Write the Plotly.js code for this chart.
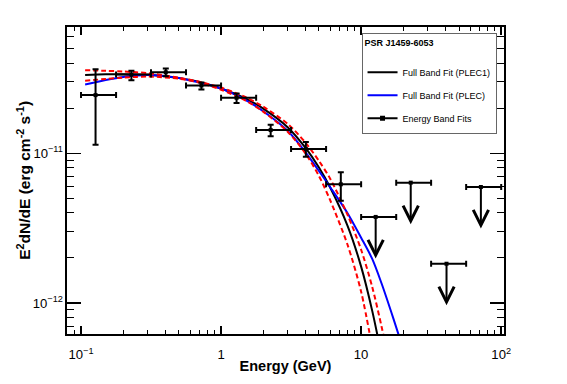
<!DOCTYPE html>
<html>
<head>
<meta charset="utf-8">
<script src="https://cdn.plot.ly/plotly-3.0.1.min.js"></script>
<style>html,body{margin:0;padding:0;background:#fff;}#chart{width:567px;height:384px;}</style>
</head>
<body>
<div id="chart"></div>
<script>
// ---- Energy band fits (GeV, erg cm^-2 s^-1) ----
const bandEnergy = [0.127, 0.229, 0.403, 0.724, 1.29, 2.26, 4.03, 7.16];
const bandLow    = [0.1, 0.178, 0.316, 0.562, 1.0, 1.78, 3.16, 5.62];
const bandHigh   = [0.178, 0.316, 0.562, 1.0, 1.78, 3.16, 5.62, 10.0];
const bandFlux   = [2.45e-11, 3.36e-11, 3.48e-11, 2.84e-11, 2.35e-11, 1.43e-11, 1.07e-11, 6.21e-12];
const bandFluxHi = [3.65e-11, 3.56e-11, 3.69e-11, 2.97e-11, 2.51e-11, 1.55e-11, 1.19e-11, 7.47e-12];
const bandFluxLo = [1.14e-11, 3.08e-11, 3.27e-11, 2.67e-11, 2.17e-11, 1.30e-11, 9.5e-12, 4.83e-12];

// ---- Upper limits ----
const ulEnergy = [12.7, 22.6, 40.7, 71.6];
const ulLow    = [10.0, 17.8, 31.6, 56.2];
const ulHigh   = [17.8, 31.6, 56.2, 100.0];
const ulFlux   = [3.76e-12, 6.37e-12, 1.83e-12, 5.96e-12];

// ---- Full band fit PLEC1 (black) ----
const plec1Energy = [0.107, 0.15, 0.2, 0.3, 0.5, 0.7, 1, 1.5, 2, 3, 4, 5, 6, 8, 10, 12, 14];
const plec1Flux   = [3.34e-11, 3.37e-11, 3.38e-11, 3.35e-11, 3.18e-11, 3.00e-11, 2.71e-11, 2.32e-11, 1.99e-11, 1.49e-11, 1.09e-11, 8.03e-12, 5.93e-12, 3.28e-12, 1.75e-12, 8.86e-13, 4.45e-13];

// ---- Full band fit PLEC (blue) ----
const plecEnergy = [0.107, 0.15, 0.2, 0.3, 0.5, 0.7, 1, 1.5, 2, 3, 4, 5, 6, 8, 10, 12, 14, 17, 20];
const plecFlux   = [2.88e-11, 3.09e-11, 3.24e-11, 3.34e-11, 3.19e-11, 2.97e-11, 2.71e-11, 2.27e-11, 1.91e-11, 1.41e-11, 1.02e-11, 7.62e-12, 5.96e-12, 3.98e-12, 2.73e-12, 1.97e-12, 1.35e-12, 7.87e-13, 4.90e-13];

// ---- PLEC1 uncertainty band (red dashed) ----
const bandUpperEnergy = [0.107, 0.15, 0.2, 0.3, 0.5, 0.7, 1, 1.5, 2, 3, 4, 5, 6, 8, 10, 12, 14, 16];
const bandUpperFlux   = [3.59e-11, 3.56e-11, 3.52e-11, 3.43e-11, 3.20e-11, 3.01e-11, 2.75e-11, 2.37e-11, 2.05e-11, 1.57e-11, 1.18e-11, 8.89e-12, 6.79e-12, 3.88e-12, 2.27e-12, 1.28e-12, 6.95e-13, 3.88e-13];
const bandLowerEnergy = [0.107, 0.15, 0.2, 0.3, 0.5, 0.7, 1, 1.5, 2, 3, 4, 5, 6, 8, 10, 12];
const bandLowerFlux   = [3.05e-11, 3.14e-11, 3.20e-11, 3.26e-11, 3.15e-11, 2.97e-11, 2.66e-11, 2.25e-11, 1.90e-11, 1.39e-11, 1.00e-11, 7.06e-12, 4.88e-12, 2.45e-12, 1.19e-12, 5.04e-13];

const legendTitle = 'PSR J1459-6053';
const names = ['Full Band Fit (PLEC1)', 'Full Band Fit (PLEC)', 'Energy Band Fits'];
const xTitle = 'Energy (GeV)';
const yTitle = 'E<sup>2</sup>dN/dE (erg cm<sup>-2</sup> s<sup>-1</sup>)';

const FONT = 'Liberation Sans, Arial, Helvetica, sans-serif';

const traces = [
  {x: plec1Energy, y: plec1Flux, mode: 'lines', name: names[0], legendgroup: 'a',
   line: {color: 'black', width: 2, shape: 'spline', smoothing: 0.8}},
  {x: plecEnergy, y: plecFlux, mode: 'lines', name: names[1], legendgroup: 'b',
   line: {color: '#0000ff', width: 2, shape: 'spline', smoothing: 0.8}},
  {x: bandUpperEnergy, y: bandUpperFlux, mode: 'lines', showlegend: false,
   line: {color: '#ff0000', width: 2, dash: '5px,3px', shape: 'spline', smoothing: 0.8}},
  {x: bandLowerEnergy, y: bandLowerFlux, mode: 'lines', showlegend: false,
   line: {color: '#ff0000', width: 2, dash: '5px,3px', shape: 'spline', smoothing: 0.8}},
  {x: bandEnergy, y: bandFlux, mode: 'markers', showlegend: false,
   marker: {symbol: 'square', size: 4, color: 'black'},
   error_x: {type: 'data', symmetric: false,
     array: bandHigh.map((h, i) => h - bandEnergy[i]),
     arrayminus: bandLow.map((l, i) => bandEnergy[i] - l),
     color: 'black', thickness: 2, width: 3},
   error_y: {type: 'data', symmetric: false,
     array: bandFluxHi.map((h, i) => h - bandFlux[i]),
     arrayminus: bandFluxLo.map((l, i) => bandFlux[i] - l),
     color: 'black', thickness: 2, width: 3}},
  {x: ulEnergy, y: ulFlux, mode: 'markers', showlegend: false,
   marker: {symbol: 'square', size: 4, color: 'black'},
   error_x: {type: 'data', symmetric: false,
     array: ulHigh.map((h, i) => h - ulEnergy[i]),
     arrayminus: ulLow.map((l, i) => ulEnergy[i] - l),
     color: 'black', thickness: 2, width: 3}},
  {x: [null], y: [null], mode: 'lines+markers', name: names[2], legendgroup: 'c',
   line: {color: 'black', width: 2}, marker: {symbol: 'square', size: 5, color: 'black'}}
];

const arrows = ulEnergy.map((e, i) => ({
  x: Math.log10(e), y: Math.log10(ulFlux[i]), xref: 'x', yref: 'y',
  ax: 0, ay: 43, text: '', showarrow: true, arrowside: 'start',
  startarrowhead: 5, startarrowsize: 1.5, arrowwidth: 2, arrowcolor: 'black'
}));

const yTitleAnnotation = {
  text: yTitle, xref: 'paper', yref: 'paper', x: -0.1, y: 0.5,
  xanchor: 'center', yanchor: 'middle', textangle: -90, showarrow: false,
  font: {family: FONT, size: 15.5, weight: 'bold', color: 'black'}
};

const axisCommon = {
  type: 'log', showline: true, linecolor: 'black', linewidth: 2, mirror: 'allticks',
  ticks: 'inside', tickcolor: 'black', tickwidth: 1.5, dtick: 1,
  exponentformat: 'power', showgrid: false, zeroline: false,
  tickfont: {family: FONT, size: 10.5, color: 'black'}
};

const layout = {
  width: 567, height: 384,
  margin: {l: 67, r: 63, t: 27, b: 50},
  paper_bgcolor: 'white', plot_bgcolor: 'white',
  font: {family: FONT, color: 'black'},
  showlegend: true,
  xaxis: Object.assign({}, axisCommon, {
    range: [-1.1, 2.02], ticklen: 8, ticklabelstandoff: 8,
    minor: {ticks: 'inside', ticklen: 4, tickwidth: 1, tickcolor: 'black', dtick: 'D1', showgrid: false},
    title: {text: xTitle, font: {family: FONT, size: 14.5, weight: 'bold', color: 'black'}, standoff: 0}
  }),
  yaxis: Object.assign({}, axisCommon, {
    range: [-12.207, -10.156], ticklen: 14, ticklabelstandoff: 0,
    minor: {ticks: 'inside', ticklen: 7, tickwidth: 1, tickcolor: 'black', dtick: 'D1', showgrid: false}
  }),
  legend: {
    x: 0.674, y: 0.979, xanchor: 'left', yanchor: 'top',
    bgcolor: 'white', bordercolor: '#666', borderwidth: 1,
    font: {family: FONT, size: 9, color: 'black'},
    title: {text: legendTitle + '<br> ', font: {family: FONT, size: 9, weight: 'bold', color: 'black'}},
    tracegroupgap: 4, itemwidth: 30
  },
  annotations: arrows.concat([yTitleAnnotation])
};

Plotly.newPlot('chart', traces, layout, {displayModeBar: false, staticPlot: true});
</script>
</body>
</html>
